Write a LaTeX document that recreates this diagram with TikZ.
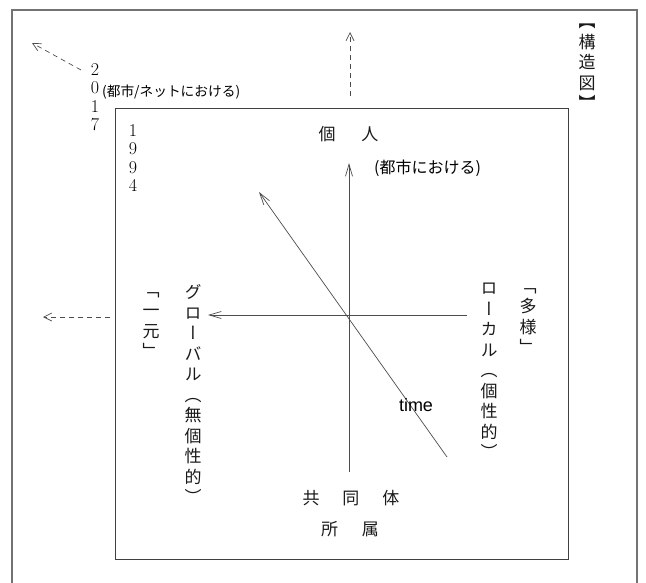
\documentclass[tikz,border=0pt]{standalone}
\usepackage{fontspec}
\newfontfamily\jpfont{Noto Sans CJK JP}
\newfontfamily\jpvfont[RawFeature=+vert]{Noto Sans CJK JP}
\newfontfamily\latsans{Liberation Sans}
\usetikzlibrary{arrows.meta}
\tikzset{
  outerframe/.style={draw=black!55, line width=1.6pt},
  innerbox/.style={draw=black!75, line width=0.9pt},
  axisarrow/.style={draw=black!70, line width=0.7pt, -{Straight Barb[length=12pt,width=7pt]}},
  dasharrow/.style={draw=black!70, line width=0.7pt, dash pattern=on 5pt off 4pt, -{Straight Barb[length=8pt,width=8pt]}},
  vlabel/.style={font=\jpvfont\fontsize{17}{20.5}\selectfont, align=center, inner sep=0pt, text=black!90},
  hlabel/.style={font=\jpfont\fontsize{17}{20}\selectfont, inner sep=0pt, text=black!90},
  numcol/.style={font=\fontsize{18}{18.5}\selectfont, align=center, inner sep=0pt, text=black},
}
\begin{document}
\begin{tikzpicture}[x=1pt,y=-1pt]
\useasboundingbox (0,0) rectangle (646,583);
% frames
\draw[outerframe] (12,583) -- (12,10) -- (637,10) -- (637,583);
\draw[innerbox] (115,108) rectangle (568,559);
% axes coordinates
\coordinate (vbot) at (349,472);
\coordinate (vtop) at (349,163);
\coordinate (hright) at (467,315);
\coordinate (hleft) at (208,315);
\coordinate (tstart) at (447,457);
\coordinate (tend) at (259,192);
\draw[axisarrow] (vbot) -- (vtop);
\draw[axisarrow] (hright) -- (hleft);
\draw[axisarrow] (tstart) -- (tend);
% dashed arrows
\coordinate (ua) at (350,96);
\coordinate (ub) at (350,32);
\coordinate (la) at (110,317);
\coordinate (lb) at (43,317);
\coordinate (da) at (81,70);
\coordinate (db) at (32,43);
\draw[dasharrow] (ua) -- (ub);
\draw[dasharrow] (la) -- (lb);
\draw[dasharrow] (da) -- (db);
% numbers
\node[numcol] (n2017) at (95,97) {2\\0\\1\\7};
\node[numcol] (n1994) at (133,158) {1\\9\\9\\4};
% horizontal labels
\node[font=\jpfont\fontsize{13.7}{14}\selectfont, inner sep=0pt, anchor=west, text=black] (toshinet) at (102,92) {(都市/ネットにおける)};
\node[font=\jpfont\fontsize{16}{16}\selectfont, inner sep=0pt, anchor=west, text=black] (toshi) at (374,168) {(都市における)};
\node[hlabel] (kojin) at (348.5,134) {個\hspace{26pt}人};
\node[hlabel] (kyodo) at (351,498) {共\hspace{23pt}同\hspace{23pt}体};
\node[hlabel] (shozoku) at (350,529) {所\hspace{24pt}属};
\node[font=\latsans\fontsize{18}{18}\selectfont, inner sep=0pt, text=black] (time) at (416,405) {time};
% vertical labels
\node[vlabel] (global) at (193,394) {グ\\ロ\\ー\\バ\\ル\\（\\無\\個\\性\\的\\）};
\node[vlabel] (ichigen) at (151,325) {「\\一\\元\\」};
\node[vlabel] (local) at (489,371) {ロ\\ー\\カ\\ル\\（\\個\\性\\的\\）};
\node[vlabel] (tayo) at (528,321) {「\\多\\様\\」};
\node[vlabel] (title) at (587,67) {【\\構\\造\\図\\】};
\end{tikzpicture}
\end{document}
